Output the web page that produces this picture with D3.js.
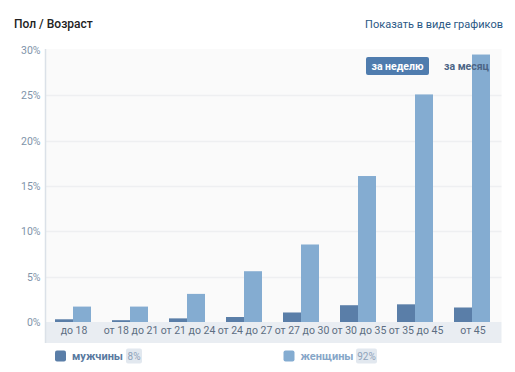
<!DOCTYPE html>
<html><head><meta charset="utf-8">
<script src="https://cdn.jsdelivr.net/npm/d3@7"></script>
<style>
html,body{margin:0;padding:0;background:#fff;}
svg{display:block;font-family:Roboto,sans-serif;}
</style></head>
<body>
<svg id="c" width="515" height="372"></svg>
<script>
const categories = ["до 18","от 18 до 21","от 21 до 24","от 24 до 27","от 27 до 30","от 30 до 35","от 35 до 45","от 45"];
const men   = [0.3, 0.2, 0.4, 0.55, 1.05, 1.85, 1.95, 1.6];
const women = [1.7, 1.7, 3.1, 5.6, 8.55, 16.1, 25.1, 29.5];
const yTicks = [0,5,10,15,20,25,30];
const seriesNames = ["мужчины","женщины"];
const seriesShares = ["8%","92%"];

(function(){
const svg = d3.select("#c");
const pLeft = 45.5, pRight = 501.5, pTop = 49, pBottom = 322;
const x = d3.scaleBand().domain(categories).range([pLeft, pRight]).padding(0);
const y = d3.scaleLinear().domain([0,30]).range([pBottom, pTop+1]);
const inner = d3.scaleBand().domain(["m","w"]).range([0,36]);
const colors = {m:"#5a7ea8", w:"#84acd1"};
const F = "Roboto";

// header
svg.append("text").attr("x",14).attr("y",28).attr("font-size",12).attr("font-weight",500)
  .attr("fill","#222").text("Пол / Возраст");
svg.append("text").attr("x",503).attr("y",28).attr("text-anchor","end").attr("font-size",11)
  .attr("fill","#2a5885").text("Показать в виде графиков");

// plot background
svg.append("rect").attr("x",pLeft).attr("y",pTop).attr("width",pRight-pLeft).attr("height",pBottom-pTop).attr("fill","#fafafa");
// axis band
svg.append("rect").attr("x",pLeft).attr("y",pBottom).attr("width",pRight-pLeft).attr("height",21).attr("fill","#e9edf2");

// gridlines
svg.append("g").selectAll("line").data(yTicks.filter(d=>d>0 && d<30)).join("line")
  .attr("x1",pLeft).attr("x2",pRight).attr("y1",d=>Math.round(y(d))+0.5).attr("y2",d=>Math.round(y(d))+0.5)
  .attr("stroke","#eeeff1").attr("stroke-width",1.5);

// y axis line
svg.append("line").attr("x1",pLeft).attr("x2",pLeft).attr("y1",pTop).attr("y2",pBottom+21)
  .attr("stroke","#dbe1e8").attr("stroke-width",1.5);

// y labels
const yAxis = d3.axisLeft(y).tickValues(yTicks).tickFormat(d=>d+"%").tickSize(0).tickPadding(5);
const ya = svg.append("g").attr("transform",`translate(${pLeft},0)`).call(yAxis);
ya.select(".domain").remove();
ya.selectAll("text").attr("font-size",10.5).attr("fill","#8093a9").attr("font-family",F);

// x labels
const xAxis = d3.axisBottom(x).tickSize(0).tickPadding(5);
const xa = svg.append("g").attr("transform",`translate(0,${pBottom})`).call(xAxis);
xa.select(".domain").remove();
xa.selectAll("text").attr("font-size",10.5).attr("fill","#5d6e82").attr("font-family",F);

// bars
const data = categories.map((c,i)=>({c, m:men[i], w:women[i]}));
const g = svg.append("g");
data.forEach(d=>{
  ["m","w"].forEach(k=>{
    g.append("rect")
      .attr("x", x(d.c) + x.bandwidth()/2 - 19 + inner(k))
      .attr("width", inner.bandwidth())
      .attr("y", y(d[k]))
      .attr("height", pBottom - y(d[k]))
      .attr("fill", colors[k]);
  });
});

// buttons (over bars)
svg.append("rect").attr("x",366).attr("y",57).attr("width",63).attr("height",18).attr("rx",2).attr("fill","#4f7cae");
svg.append("text").attr("x",397.5).attr("y",70).attr("text-anchor","middle").attr("font-size",10.5).attr("font-weight",700)
  .attr("fill","#fff").text("за неделю");
svg.append("text").attr("x",444).attr("y",70).attr("font-size",10.5).attr("font-weight",700)
  .attr("fill","#4c6586").text("за месяц");

// legend
const leg = [{x:55, k:"m", badgeX:126, badgeW:16, textColor:"#58799f"},{x:283.5, k:"w", badgeX:356, badgeW:21, textColor:"#86a6c8"}];
leg.forEach((l,i)=>{
  svg.append("rect").attr("x",l.x).attr("y",350.5).attr("width",11).attr("height",11).attr("rx",2).attr("fill",colors[l.k]);
  svg.append("text").attr("x",l.x+17).attr("y",360).attr("font-size",11).attr("font-weight",700)
    .attr("fill",l.textColor).text(seriesNames[i]);
  svg.append("rect").attr("x",l.badgeX).attr("y",348.5).attr("width",l.badgeW).attr("height",15).attr("rx",2).attr("fill","#e2e8ef");
  svg.append("text").attr("x",l.badgeX+l.badgeW/2).attr("y",360).attr("text-anchor","middle").attr("font-size",10)
    .attr("fill","#8fa3ba").text(seriesShares[i]);
});
})();
</script>
</body></html>
